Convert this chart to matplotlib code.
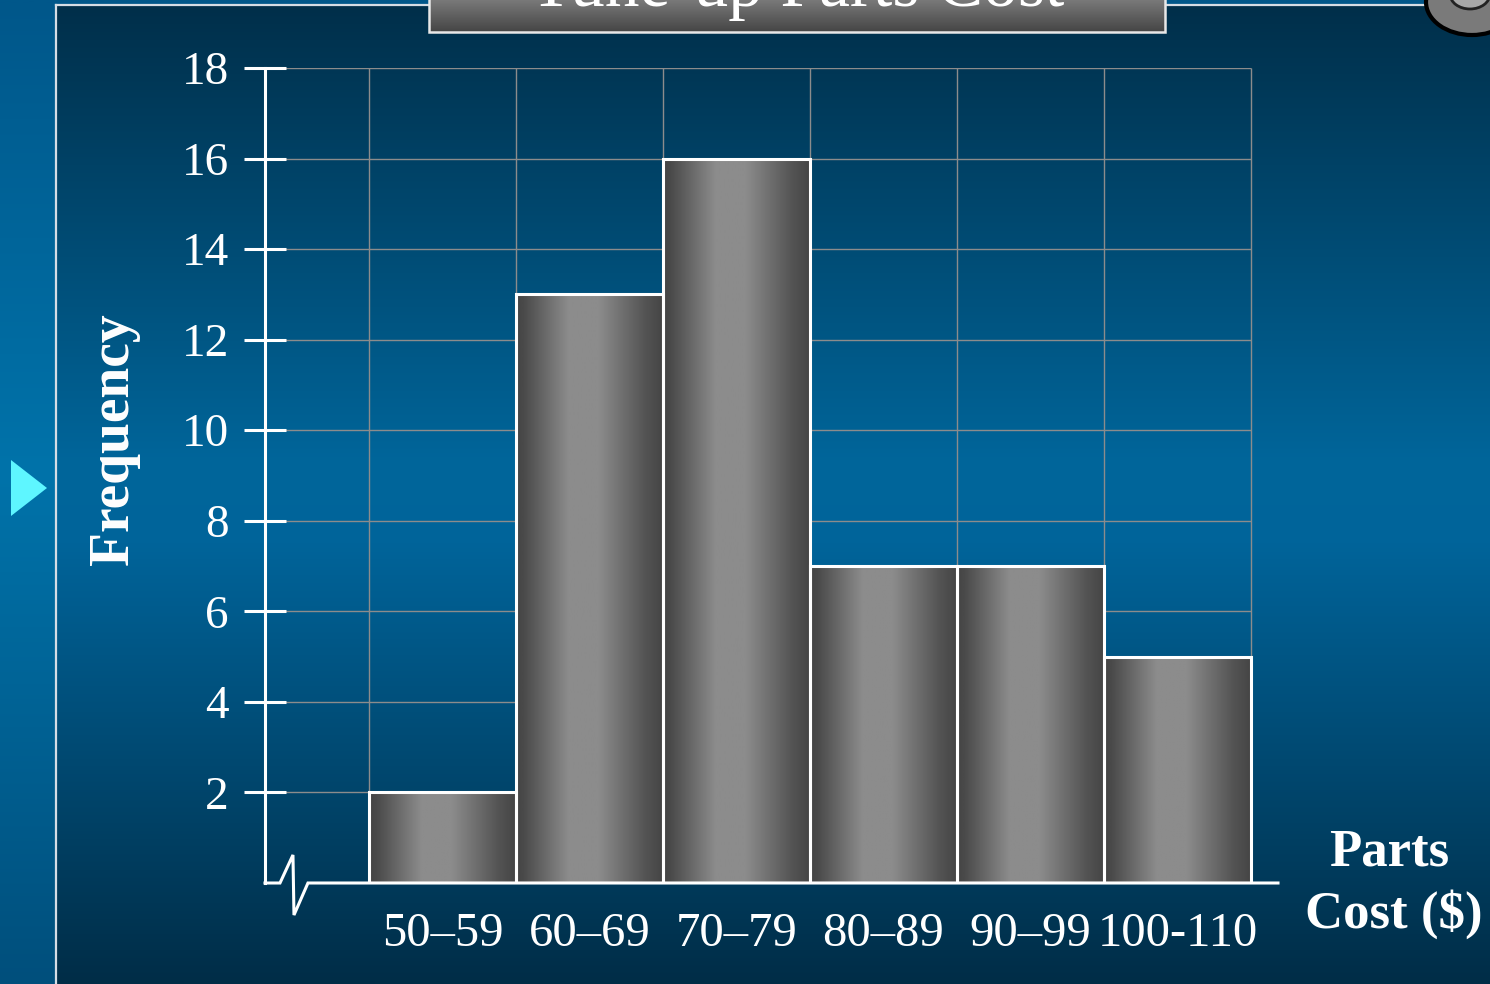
import numpy as np
import matplotlib
matplotlib.use("Agg")
import matplotlib.pyplot as plt
from matplotlib.colors import LinearSegmentedColormap
from matplotlib.patches import Rectangle, Polygon, Ellipse

plt.rcParams["font.family"] = ["Liberation Serif", "DejaVu Serif"]

# ---- data -------------------------------------------------------------
categories = ["50–59", "60–69", "70–79", "80–89", "90–99", "100-110"]
frequencies = [2, 13, 16, 7, 7, 5]
y_ticks = [2, 4, 6, 8, 10, 12, 14, 16, 18]
title = "Tune-up Parts Cost"

W, H = 1490, 984
fig = plt.figure(figsize=(W / 100, H / 100), dpi=100)

# ---- slide background (pixel coordinates) ----------------------------
bg = fig.add_axes([0, 0, 1, 1])
bg.set_xlim(0, W)
bg.set_ylim(H, 0)
bg.axis("off")


def vgrad(ax, x0, x1, y0, y1, stops, zorder):
    cmap = LinearSegmentedColormap.from_list("g", stops)
    arr = np.linspace(0, 1, 512).reshape(-1, 1)
    return ax.imshow(arr, cmap=cmap, extent=[x0, x1, y1, y0], aspect="auto",
                     zorder=zorder, interpolation="bilinear")


# outer band
vgrad(bg, 0, W, 0, H, [(0, "#00578a"), (0.48, "#0073aa"), (1, "#004f7c")], 0)
# inner panel
vgrad(bg, 56, W, 5, H, [(0, "#012f4a"), (0.47, "#00669b"), (0.55, "#00649a"),
                       (1, "#002d47")], 1)
bg.plot([56, 56], [5, H], color="#d5dde5", lw=1.6, zorder=2)
bg.plot([56, 429], [5, 5], color="#d5dde5", lw=1.6, zorder=2)
bg.plot([1165, 1430], [5, 5], color="#d5dde5", lw=1.6, zorder=2)

# title plate
plate = Rectangle((429, -40), 736, 72, facecolor="none", edgecolor="#e8e8e8",
                  lw=1.8, zorder=4)
bg.add_patch(plate)
im = vgrad(bg, 429, 1165, -40, 32, [(0, "#a0a0a0"), (0.55, "#7a7a7a"), (1, "#454545")], 3)
im.set_clip_path(plate)
bg.text(797, 6, title, ha="center", va="baseline", fontsize=50, color="white",
        zorder=5)

# clip-art corner ornament
bg.add_patch(Ellipse((1472, 2), 92, 66, facecolor="#7a7a7a", edgecolor="black",
                     lw=3, zorder=3))
bg.add_patch(Ellipse((1470, -6), 40, 30, facecolor="#a8a8a8", edgecolor="#222222",
                     lw=2, zorder=3))

# bullet arrow
bg.add_patch(Polygon([(11, 460), (11, 516), (47, 488)], closed=True,
                     facecolor="#5ef6ff", edgecolor="none", zorder=3))

# ---- histogram axes ---------------------------------------------------
n = len(categories)
ax = fig.add_axes([265 / W, (H - 883) / H, (1278 - 265) / W, 815 / H])
ax.patch.set_alpha(0)
x_lo, x_hi = -0.7075, 6.184

# grid
ax.hlines(y_ticks, x_lo, n, color="#8c8c8c", lw=1.0, zorder=1)
ax.vlines(np.arange(n + 1), 0, max(y_ticks), color="#8c8c8c", lw=1.0, zorder=1)

# bars with a cylindrical grey shading
t = np.linspace(0, 1, 256)
shade = np.interp(t, [0, 0.05, 0.36, 0.56, 0.88, 1.0],
                  [0.27, 0.29, 0.55, 0.55, 0.33, 0.27]).reshape(1, -1)
bars = ax.bar(np.arange(n), frequencies, width=1, align="edge",
              facecolor="none", edgecolor="white", linewidth=2.2, zorder=3)
for b, h in zip(bars, frequencies):
    x = b.get_x()
    gim = ax.imshow(shade, cmap="gray", vmin=0, vmax=1, aspect="auto",
                    extent=[x, x + b.get_width(), 0, h], zorder=2,
                    interpolation="bilinear")
    gim.set_clip_path(b)

ax.set_xlim(x_lo, x_hi)
ax.set_ylim(0, 18)

for s in ["top", "right", "bottom"]:
    ax.spines[s].set_visible(False)
ax.spines["left"].set_color("white")
ax.spines["left"].set_linewidth(2.2)
ax.spines["left"].set_zorder(4)

ax.set_yticks(y_ticks)
ax.tick_params(axis="y", direction="inout", length=30, width=2.2,
               colors="white", labelsize=34, pad=11)
for lbl in ax.get_yticklabels():
    lbl.set_y(lbl.get_position()[1])
ax.set_xticks(np.arange(n) + 0.5)
ax.set_xticklabels(categories)
ax.tick_params(axis="x", length=0, pad=21, labelsize=35, labelcolor="white")

# x axis with a break symbol near the origin
bx = [0, 0.0148, 0.0276, 0.0286, 0.0424, 1.0]
by = [0, 0, 0.0344, -0.0393, 0, 0]
ax.plot(bx, by, transform=ax.transAxes, clip_on=False, color="white",
        lw=2.2, solid_joinstyle="miter", zorder=5)

# axis titles
fig.text(114 / W, 1 - 439 / H, "Frequency", rotation=90, ha="center",
         va="center", fontsize=40, fontweight="bold", color="white")
fig.text(1389 / W, 1 - 852 / H, "Parts", ha="center", va="center",
         fontsize=38, fontweight="bold", color="white")
fig.text(1394 / W, 1 - 914 / H, "Cost ($)", ha="center", va="center",
         fontsize=38, fontweight="bold", color="white")

fig.savefig("out.png", dpi=100)
